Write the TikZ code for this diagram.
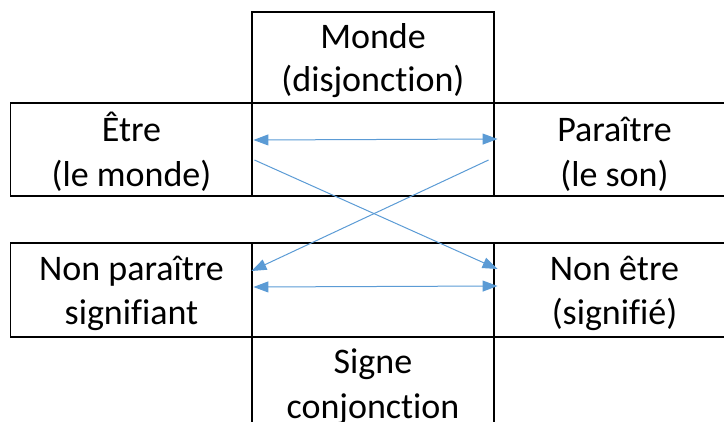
\documentclass[tikz,border=0pt]{standalone}
\usepackage{fontspec}
\setmainfont{Carlito}[Ligatures={NoCommon}]
\usetikzlibrary{arrows.meta,calc}
\definecolor{arrowblue}{HTML}{5B9BD5}
\tikzset{
  cell/.style={draw=black, line width=1.9pt, rectangle, inner sep=0pt, minimum width=242pt, minimum height=#1},
  cell/.default=93pt,
  txt/.style={font=\fontsize{36}{44}\selectfont, inner sep=0pt, anchor=base},
  conn/.style={draw=arrowblue, line width=1pt, -{Triangle[length=15pt,width=11pt]}},
  dconn/.style={draw=arrowblue, line width=1pt, {Triangle[length=15pt,width=11pt]}-{Triangle[length=15pt,width=11pt]}}
}
\begin{document}
\begin{tikzpicture}[x=1pt,y=-1pt]
\useasboundingbox (0,0) rectangle (724,421);
\clip (0,0) rectangle (724,421);
% cells
\node[cell=91pt] (monde) at (373,57.5) {};
\node[cell] (etre) at (131.5,149.5) {};
\node[cell] (mid1) at (373,149.5) {};
\node[cell] (parait) at (614.5,149.5) {};
\node[cell=94pt] (nonpar) at (131.5,290) {};
\node[cell=94pt] (mid2) at (373,290) {};
\node[cell=94pt] (nonetre) at (614.5,290) {};
\node[cell=100pt] (signe) at (373,387) {};
% texts
\node[txt] (t1) at (373,48) {Monde};
\node[txt] (t2) at (373,91) {(disjonction)};
\node[txt] (t3) at (131.5,141) {Être};
\node[txt] (t4) at (131.5,186) {(le monde)};
\node[txt] (t5) at (614.5,141) {Paraître};
\node[txt] (t6) at (614.5,186) {(le son)};
\node[txt] (t7) at (131.5,280) {Non paraître};
\node[txt] (t8) at (131.5,324) {signifiant};
\node[txt] (t9) at (614.5,280) {Non être};
\node[txt] (t10) at (614.5,324) {(signifié)};
\node[txt] (t11) at (373,373) {Signe};
\node[txt] (t12) at (373,418) {conjonction};
% connectors
\draw[dconn] ($(etre.east)+(0,-9.5)$) -- ($(parait.west)+(5,-10.5)$);
\draw[conn] ($(etre.east)+(1,10.5)$) -- ($(nonetre.west)+(5,-21)$);
\draw[conn] ($(parait.west)+(-4,10.5)$) -- ($(nonpar.east)+(-2,-19)$);
\draw[dconn] ($(nonpar.east)+(0,-3)$) -- ($(nonetre.west)+(5,-4)$);
\end{tikzpicture}
\end{document}
